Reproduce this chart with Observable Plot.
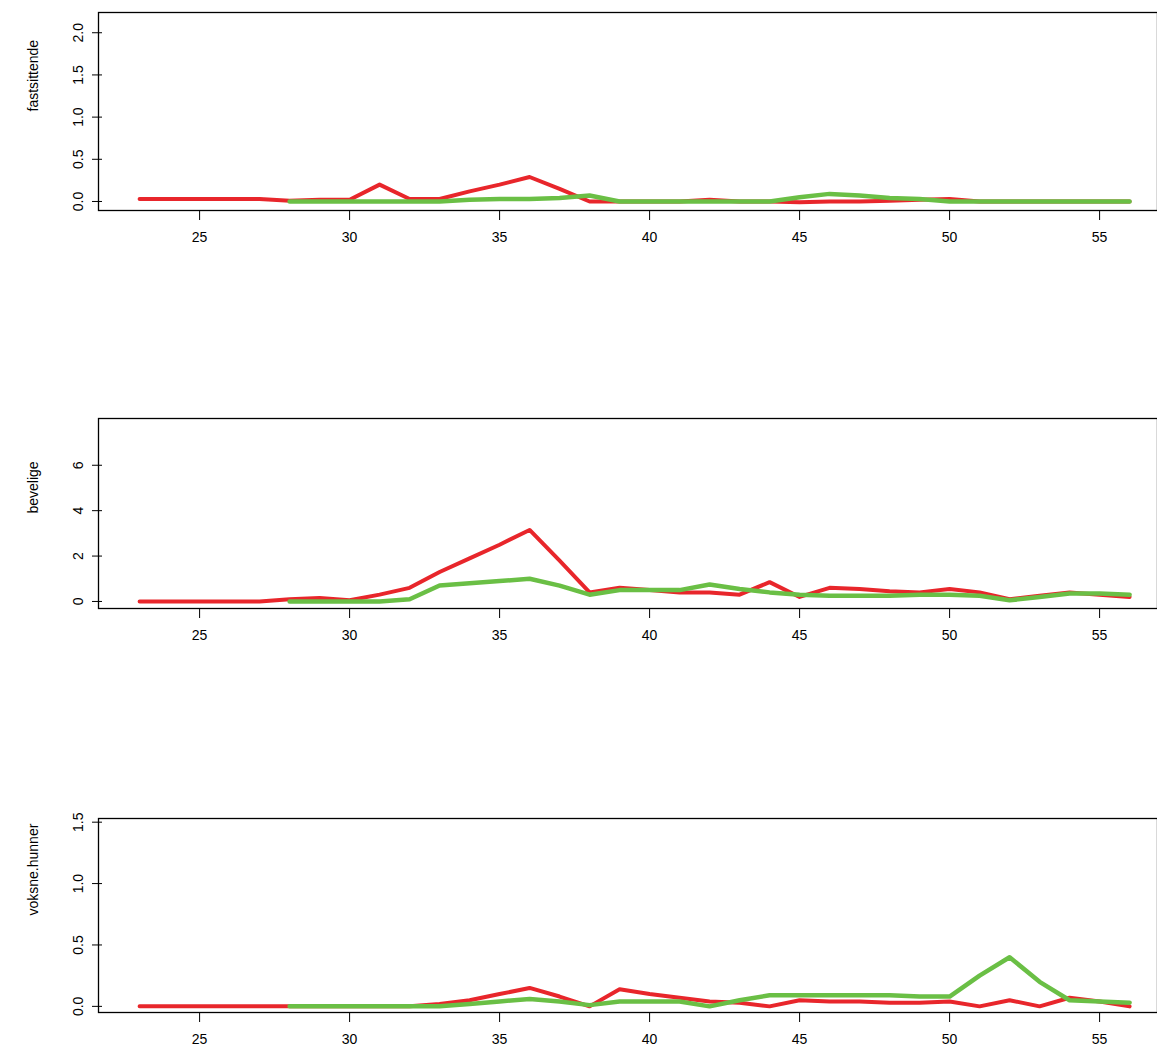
<!DOCTYPE html>
<html><head><meta charset="utf-8">
<script src="https://cdn.jsdelivr.net/npm/d3@7"></script>
<script src="https://cdn.jsdelivr.net/npm/@observablehq/plot@0.6"></script>
<style>body{margin:0;background:#fff}#c svg{display:block}</style>
</head><body><div id="c"></div>
<script>
const yearsRed = d3.range(23, 57)
const yearsGreen = d3.range(28, 57)

const fastRed = [0.03,0.03,0.03,0.03,0.03,0.01,0.02,0.02,0.2,0.03,0.03,0.12,0.2,0.29,0.15,0.0,0,0,0,0.02,0,0,-0.01,0,0,0.01,0.02,0.03,0,0,0,0,0,0]
const fastGreen = [0,0,0,0,0,0,0.02,0.03,0.03,0.04,0.07,0,0,0,0,0,0,0.05,0.09,0.07,0.04,0.03,0,0,0,0,0,0,0]
const bevRed = [0,0,0,0,0,0.1,0.15,0.05,0.3,0.6,1.3,1.9,2.5,3.15,1.8,0.4,0.6,0.5,0.4,0.4,0.3,0.85,0.2,0.6,0.55,0.45,0.4,0.55,0.4,0.1,0.25,0.4,0.3,0.2]
const bevGreen = [0,0,0,0,0.1,0.7,0.8,0.9,1.0,0.7,0.3,0.5,0.5,0.5,0.75,0.55,0.4,0.3,0.25,0.25,0.25,0.3,0.3,0.25,0.05,0.2,0.35,0.35,0.3]
const voksRed = [0,0,0,0,0,0,0,0,0,0,0.02,0.05,0.1,0.15,0.08,0,0.14,0.1,0.07,0.04,0.03,0,0.05,0.04,0.04,0.03,0.03,0.04,0,0.05,0,0.07,0.04,0]
const voksGreen = [0,0,0,0,0,0,0.02,0.04,0.06,0.04,0.01,0.04,0.04,0.04,0,0.05,0.09,0.09,0.09,0.09,0.09,0.08,0.08,0.25,0.4,0.2,0.05,0.04,0.03]

const xTicks = [25, 30, 35, 40, 45, 50, 55]
const panels = [
  {label: "fastsittende", red: fastRed, green: fastGreen, yTicks: [0,0.5,1,1.5,2], fmt: d3.format(".1f"), dom: [-0.107, 2.24], mt: 12, mb: 143},
  {label: "bevelige", red: bevRed, green: bevGreen, yTicks: [0,2,4,6], fmt: d3.format("d"), dom: [-0.31, 8.06], mt: 65, mb: 98},
  {label: "voksne.hunner", red: voksRed, green: voksGreen, yTicks: [0,0.5,1,1.5], fmt: d3.format(".1f"), dom: [-0.05, 1.53], mt: 112, mb: 47}
]

for (const p of panels) {
  const red = yearsRed.map((x, i) => ({x, y: p.red[i]}))
  const green = yearsGreen.map((x, i) => ({x, y: p.green[i]}))
  const chart = Plot.plot({
    width: 1157, height: 353,
    marginLeft: 98, marginRight: 0, marginTop: p.mt, marginBottom: p.mb,
    style: {fontFamily: "Liberation Sans, Arial, sans-serif", fontSize: "14px", color: "#000"},
    x: {domain: [21.63, 56.93]},
    y: {domain: p.dom},
    marks: [
      Plot.frame({stroke: "#000", strokeWidth: 1.3}),
      Plot.axisX({ticks: xTicks, tickSize: 10, tickPadding: 12, label: null, tickFormat: d3.format("d"), fontSize: 14}),
      Plot.axisY({ticks: p.yTicks, tickSize: 10, tickPadding: 10, tickFormat: p.fmt, tickRotate: -90, textAnchor: "middle", dx: 4, label: null, fontSize: 14}),
      Plot.text([p.label], {frameAnchor: "left", dx: -65, rotate: -90, fontSize: 14}),
      Plot.line(red, {x: "x", y: "y", stroke: "#e8262b", strokeWidth: 4}),
      Plot.line(green, {x: "x", y: "y", stroke: "#6abf45", strokeWidth: 4.5})
    ]
  })
  document.getElementById("c").append(chart)
}
</script></body></html>
